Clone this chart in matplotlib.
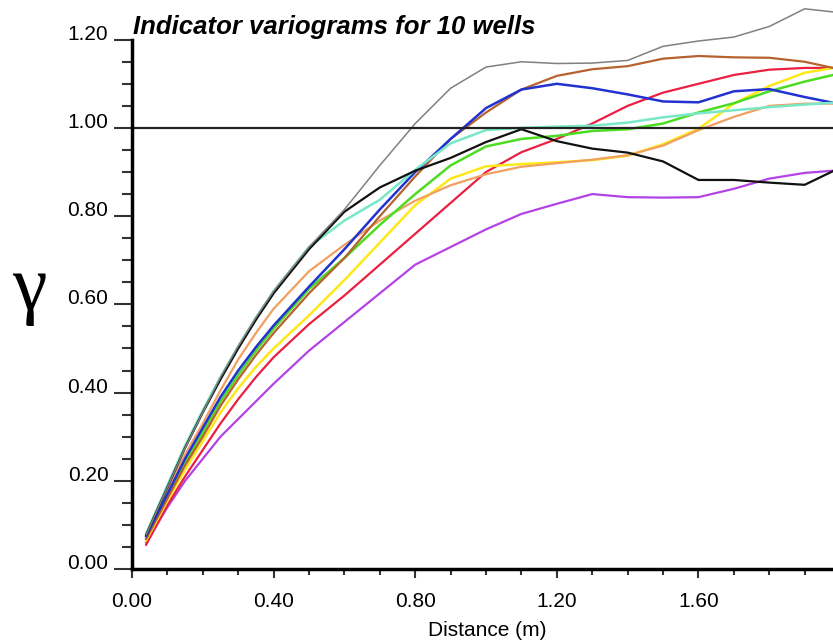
import numpy as np
import matplotlib.pyplot as plt
from matplotlib.ticker import MultipleLocator, FixedLocator, FormatStrFormatter

# lag distances (m)
distance = [0.04, 0.1, 0.15, 0.2, 0.25, 0.3, 0.35, 0.4, 0.5, 0.6, 0.7, 0.8, 0.9, 1.0,
            1.1, 1.2, 1.3, 1.4, 1.5, 1.6, 1.7, 1.8, 1.9, 1.98]

# indicator variogram values per well
gray = [0.078, 0.185, 0.275, 0.355, 0.435, 0.505, 0.57, 0.63, 0.73, 0.815, 0.915, 1.01, 1.09, 1.138,
        1.15, 1.146, 1.147, 1.153, 1.185, 1.197, 1.206, 1.23, 1.27, 1.263]
brown = [0.068, 0.16, 0.235, 0.30, 0.37, 0.43, 0.485, 0.535, 0.625, 0.705, 0.80, 0.89, 0.975, 1.035,
         1.087, 1.118, 1.133, 1.14, 1.157, 1.163, 1.16, 1.159, 1.15, 1.136]
red = [0.055, 0.145, 0.21, 0.27, 0.33, 0.385, 0.435, 0.48, 0.555, 0.62, 0.69, 0.76, 0.83, 0.90,
       0.945, 0.975, 1.01, 1.05, 1.08, 1.10, 1.12, 1.132, 1.136, 1.136]
blue = [0.075, 0.17, 0.25, 0.32, 0.39, 0.45, 0.503, 0.552, 0.64, 0.725, 0.815, 0.90, 0.975, 1.045,
        1.087, 1.10, 1.09, 1.076, 1.06, 1.058, 1.083, 1.088, 1.07, 1.057]
yellow = [0.065, 0.155, 0.225, 0.29, 0.355, 0.41, 0.458, 0.50, 0.575, 0.655, 0.74, 0.825, 0.885, 0.913,
          0.918, 0.922, 0.927, 0.937, 0.963, 0.998, 1.055, 1.095, 1.125, 1.136]
green = [0.07, 0.165, 0.24, 0.31, 0.38, 0.44, 0.495, 0.545, 0.635, 0.705, 0.78, 0.85, 0.915, 0.958,
         0.975, 0.982, 0.993, 0.997, 1.01, 1.035, 1.056, 1.083, 1.105, 1.12]
cyan = [0.08, 0.19, 0.28, 0.36, 0.435, 0.505, 0.57, 0.63, 0.73, 0.79, 0.837, 0.905, 0.965, 0.995,
        1.0, 1.003, 1.005, 1.012, 1.024, 1.033, 1.04, 1.047, 1.053, 1.057]
orange = [0.075, 0.18, 0.26, 0.33, 0.405, 0.475, 0.535, 0.59, 0.675, 0.735, 0.79, 0.835, 0.87, 0.895,
          0.912, 0.92, 0.928, 0.938, 0.96, 0.995, 1.025, 1.05, 1.055, 1.055]
black = [0.078, 0.185, 0.275, 0.355, 0.43, 0.50, 0.565, 0.625, 0.725, 0.81, 0.865, 0.903, 0.932, 0.968,
         0.997, 0.97, 0.953, 0.944, 0.924, 0.882, 0.882, 0.876, 0.871, 0.902]
purple = [0.06, 0.14, 0.20, 0.25, 0.30, 0.34, 0.38, 0.42, 0.495, 0.56, 0.625, 0.69, 0.73, 0.77,
          0.805, 0.828, 0.85, 0.843, 0.842, 0.843, 0.862, 0.885, 0.898, 0.903]

wells = [
    (purple, "#b443e6", 1.6),
    (red, "#ea2040", 1.6),
    (yellow, "#ffe81a", 1.8),
    (orange, "#f0a060", 1.6),
    (green, "#4cdc22", 1.8),
    (brown, "#b5622e", 1.6),
    (blue, "#2232d0", 1.8),
    (cyan, "#78e8c8", 1.8),
    (black, "#111111", 1.6),
    (gray, "#808080", 1.1),
]

fig = plt.figure(figsize=(8.33, 6.4), dpi=100)
ax = fig.add_axes([132 / 833, 71 / 640, 701 / 833, 569 / 640])

for vals, col, lw in wells:
    ax.plot(distance, vals, color=col, lw=lw)

ax.axhline(1.0, color="#222222", lw=1.6)

ax.set_xlim(0, 1.98)
ax.set_ylim(0, 1.29)
ax.spines["top"].set_visible(False)
ax.spines["right"].set_visible(False)
ax.spines["left"].set_linewidth(2.5)
ax.spines["bottom"].set_linewidth(2.5)
ax.spines["left"].set_bounds(0, 1.2)

ax.xaxis.set_major_locator(MultipleLocator(0.4))
ax.xaxis.set_minor_locator(MultipleLocator(0.1))
ax.yaxis.set_major_locator(FixedLocator([0, 0.2, 0.4, 0.6, 0.8, 1.0, 1.2]))
ax.yaxis.set_minor_locator(FixedLocator(np.arange(0, 1.21, 0.05)))
ax.xaxis.set_major_formatter(FormatStrFormatter("%.2f"))
ax.yaxis.set_major_formatter(FormatStrFormatter("%.2f"))

ax.tick_params(axis="x", which="major", length=6.5, width=1.5, pad=10,
               labelsize=15, color="#333333")
ax.tick_params(axis="x", which="minor", length=4.5, width=1.5, color="#333333")
ax.tick_params(axis="y", which="major", length=13, width=1.5, pad=4,
               labelsize=15, color="#333333")
ax.tick_params(axis="y", which="minor", length=7, width=1.5, color="#333333")

for lab in ax.get_xticklabels() + ax.get_yticklabels():
    lab.set_family("Liberation Sans")
for lab in ax.get_yticklabels():
    lab.set_verticalalignment("baseline")

fig.text(133 / 833, 1 - 27 / 640, "Indicator variograms for 10 wells",
         ha="left", va="center", fontsize=18.5, fontweight="bold",
         fontstyle="italic", family="Liberation Sans")
fig.text(487 / 833, 1 - 630 / 640, "Distance (m)", ha="center", va="center",
         fontsize=15, family="Liberation Sans")
fig.text(29 / 833, 1 - 290 / 640, "γ", ha="center", va="center",
         fontsize=56, family="Liberation Serif")

fig.savefig("out.png", dpi=100)
